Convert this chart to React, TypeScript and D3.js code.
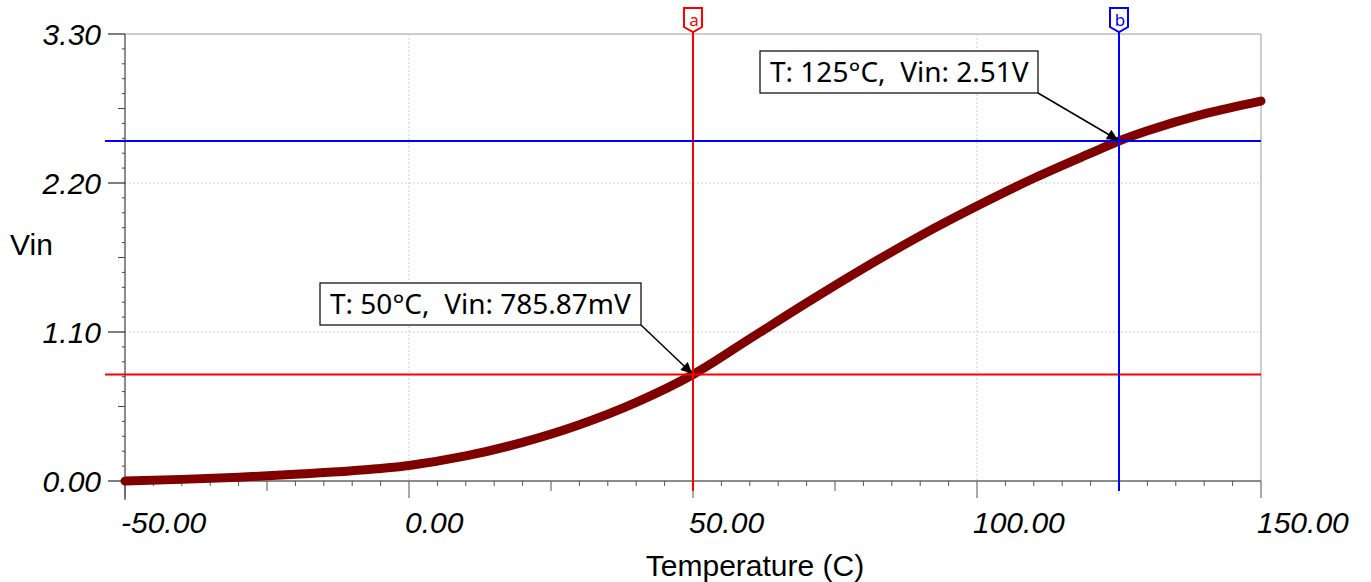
import React from "react";
import * as d3 from "d3";

// temperature sweep (C) and measured Vin (V)
const temps = [-50, -40, -30, -20, -10, 0, 10, 20, 30, 40, 50, 60, 70, 80, 90, 100, 110, 120, 125, 130, 140, 150];
const vin = [0, 0.012, 0.028, 0.05, 0.076, 0.115, 0.185, 0.285, 0.415, 0.58, 0.786, 1.05, 1.315, 1.57, 1.81, 2.03, 2.235, 2.42, 2.51, 2.585, 2.71, 2.805];

const xTicks = [-50, 0, 50, 100, 150];
const yTicks = [0, 1.1, 2.2, 3.3];

const cursorNames = ["a", "b"];
const cursorTemps = [50, 125];
const cursorVin = [0.78587, 2.51];
const cursorLabels = ["T: 50°C,  Vin: 785.87mV", "T: 125°C,  Vin: 2.51V"];
const cursorColors = ["#ff0000", "#0000ff"];

const W = 1371;
const H = 582;
const margin = { top: 34, right: 110, bottom: 101, left: 125 };

const App = () => {
  const x = d3.scaleLinear().domain([-50, 150]).range([margin.left, W - margin.right]);
  const y = d3.scaleLinear().domain([0, 3.3]).range([H - margin.bottom, margin.top]);
  const x0 = x.range()[0];
  const x1 = x.range()[1];
  const y0 = y.range()[0];
  const y1 = y.range()[1];

  const line = d3
    .line<number>()
    .x((d, i) => x(temps[i]))
    .y((d) => y(d))
    .curve(d3.curveMonotoneX);

  // minor ticks: 10 per major step
  const xMinor = d3.range(0, 41).map((i) => -50 + i * 5);
  const yMinor = d3.range(0, 31).map((i) => i * 0.11);

  const axisFont = "'Liberation Sans', Arial, sans-serif";
  const noteFont = "'Noto Sans', sans-serif";

  // annotation boxes (box x, y, w, h)
  const boxes = [
    { x: 320, y: 283, w: 321, h: 42 },
    { x: 760, y: 51, w: 278, h: 42 },
  ];

  return (
    <svg
      width={W}
      height={H}
      style={{ position: "absolute", left: 0, top: 0, background: "#fff" }}
    >
      <defs>
        <marker id="arrow" viewBox="0 0 10 10" refX="10" refY="5" markerWidth="16" markerHeight="11" markerUnits="userSpaceOnUse" orient="auto">
          <path d="M0,0 L10,5 L0,10 z" fill="#000" />
        </marker>
      </defs>

      {/* grid */}
      {yTicks.slice(1, -1).map((t) => (
        <line key={"gy" + t} x1={x0} x2={x1} y1={y(t)} y2={y(t)} stroke="#d0d0d0" strokeDasharray="2,2" />
      ))}
      {xTicks.slice(1, -1).map((t) => (
        <line key={"gx" + t} x1={x(t)} x2={x(t)} y1={y1} y2={y0} stroke="#d0d0d0" strokeDasharray="2,2" />
      ))}
      <line x1={x0} x2={x1} y1={y1} y2={y1} stroke="#bdbdbd" strokeWidth={1.5} />
      <line x1={x1} x2={x1} y1={y1} y2={y0} stroke="#bdbdbd" strokeWidth={1.5} />

      {/* y axis */}
      <line x1={x0} x2={x0} y1={y1} y2={y0 + 19} stroke="#666" strokeWidth={1.5} />
      {yMinor.map((t, i) => {
        const len = i % 10 === 0 ? 17 : i % 5 === 0 ? 7 : 3;
        return <line key={"ym" + i} x1={x0 - len} x2={x0} y1={y(t)} y2={y(t)} stroke={i % 10 === 0 ? "#000" : "#444"} strokeWidth={1} />;
      })}
      {yTicks.map((t) => (
        <text key={"yl" + t} x={x0 - 24} y={y(t) + 11} textAnchor="end" fontFamily={axisFont} fontStyle="italic" fontSize={30} fill="#000">
          {t.toFixed(2)}
        </text>
      ))}
      <text x={10} y={255} fontFamily={axisFont} fontSize={30} fill="#000">
        Vin
      </text>

      {/* x axis */}
      <line x1={x0} x2={x1} y1={y0} y2={y0} stroke="#666" strokeWidth={1.5} />
      {xMinor.map((t, i) => {
        const len = i % 10 === 0 ? 17 : i % 5 === 0 ? 10 : 5;
        return <line key={"xm" + i} x1={x(t)} x2={x(t)} y1={y0} y2={y0 + len} stroke="#555" strokeWidth={1} />;
      })}
      {xTicks.map((t) => (
        <text key={"xl" + t} x={x(t) - 4} y={533} textAnchor="start" fontFamily={axisFont} fontStyle="italic" fontSize={30} fill="#000">
          {t.toFixed(2)}
        </text>
      ))}
      <text x={(x0 + x1) / 2 + 62} y={576} textAnchor="middle" fontFamily={axisFont} fontSize={30} fill="#000">
        Temperature (C)
      </text>

      {/* data */}
      <path d={line(vin) || ""} fill="none" stroke="#800000" strokeWidth={9} strokeLinecap="round" strokeLinejoin="round" />

      {/* cursors */}
      {cursorNames.map((name, i) => {
        const cx = x(cursorTemps[i]);
        const cy = y(cursorVin[i]);
        const c = cursorColors[i];
        return (
          <g key={name}>
            <line x1={x0 - 20} x2={x1} y1={cy} y2={cy} stroke={c} strokeWidth={2} />
            <line x1={cx} x2={cx} y1={32} y2={y0 + 10} stroke={c} strokeWidth={2} />
            <path
              d={`M${cx - 9},8 L${cx + 9},8 L${cx + 9},27 L${cx},32 L${cx - 9},27 Z`}
              fill="#fff"
              stroke={c}
              strokeWidth={2}
            />
            <text x={cx + 1} y={26} textAnchor="middle" fontFamily={noteFont} fontSize={17} fill={c}>
              {name}
            </text>
          </g>
        );
      })}

      {/* annotations */}
      {cursorLabels.map((label, i) => {
        const b = boxes[i];
        return (
          <g key={label}>
            <rect x={b.x} y={b.y} width={b.w} height={b.h} fill="#fff" stroke="#000" strokeWidth={1.2} />
            <text x={b.x + 10} y={b.y + 31} fontFamily={noteFont} fontSize={28} fill="#000" style={{ whiteSpace: "pre" }}>
              {label}
            </text>
            <line
              x1={b.x + b.w}
              x2={x(cursorTemps[i]) - 1}
              y1={b.y + b.h}
              y2={y(cursorVin[i]) - 1}
              stroke="#000"
              strokeWidth={1.5}
              markerEnd="url(#arrow)"
            />
          </g>
        );
      })}
    </svg>
  );
};

export default App;
